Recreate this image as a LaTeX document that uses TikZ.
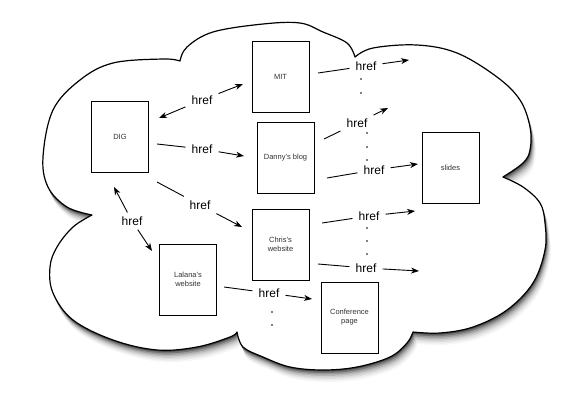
\documentclass[tikz,border=0pt]{standalone}
\usepackage{fontspec}
\setmainfont{Liberation Sans}
\usetikzlibrary{arrows.meta}
\tikzset{
  cloudpath/.style={insert path={(180,61)
    -- plot[smooth,tension=0.6] coordinates {(180,61) (187,47) (213,32) (263,24) (300,23) (323,32) (347,43) (355,57)}
    -- plot[smooth,tension=0.6] coordinates {(355,57) (373,48) (417,45) (457,53) (497,77) (520,100) (530,127) (530,150) (523,163) (503,177)}
    -- plot[smooth,tension=0.6] coordinates {(503,177) (523,187) (540,203) (545,223) (545,250) (533,283) (507,310) (473,327) (440,333) (413,332)}
    -- plot[smooth,tension=0.6] coordinates {(413,332) (407,343) (390,357) (357,367) (323,370) (290,367) (263,357) (243,347) (237,332)}
    -- plot[smooth,tension=0.6] coordinates {(237,332) (230,337) (197,347) (157,350) (113,340) (73,320) (53,293) (50,267) (57,247) (73,227) (92,215)}
    -- plot[smooth,tension=0.6] coordinates {(92,215) (67,207) (48,187) (43,157) (53,110) (80,80) (113,63) (163,59) (180,61)}
    -- cycle}},
  page/.style={draw=black, line width=0.9pt, fill=white, inner sep=1pt, align=center,
    minimum width=57pt, minimum height=71pt,
    font=\fontsize{7.5}{9}\selectfont, text=black!80},
  lbl/.style={font=\fontsize{12}{14}\selectfont, inner xsep=6pt, inner ysep=4pt},
  ln/.style={line width=0.9pt},
  arr/.style={line width=0.9pt, -{Stealth[length=8pt,width=6pt,inset=2.5pt]}},
  dotm/.style={fill=black, circle, inner sep=0pt, minimum size=1.6pt}
}
\begin{document}
\begin{tikzpicture}[x=1pt,y=-1pt]
\useasboundingbox (0,0) rectangle (587,400);
% soft drop shadow
\foreach \s/\o in {12/0.03, 10.5/0.04, 9/0.06, 7.5/0.08, 6/0.11, 4.5/0.16, 3/0.24, 1.5/0.35} {
  \begin{scope}[xshift=\s*0.4pt, yshift=-\s*1pt]
    \fill[black, opacity=\o, cloudpath];
  \end{scope}
}
\fill[white, cloudpath];
\draw[line width=1.2pt, line join=round, cloudpath];

% pages
\node[page] (dig) at (120,136.5) {DIG};
\node[page] (mit) at (280.5,76.5) {MIT};
\node[page] (danny) at (285.5,157.5) {Danny's blog};
\node[page] (slides) at (450.5,167.5) {slides};
\node[page] (chris) at (280.5,244.5) {Chris's\\website};
\node[page] (lalana) at (188,279.5) {Lalana's\\website};
\node[page] (conf) at (349.5,317.5) {Conference\\page};

% labels
\node[lbl] (l1) at (202,100) {href};
\node[lbl] (l2) at (202,149) {href};
\node[lbl] (l3) at (200,205) {href};
\node[lbl] (l4) at (132,221) {href};
\node[lbl] (l5) at (366,66) {href};
\node[lbl] (l6) at (357,123) {href};
\node[lbl] (l7) at (374,170) {href};
\node[lbl] (l8) at (369,216) {href};
\node[lbl] (l9) at (366,268) {href};
\node[lbl] (l10) at (269,293) {href};

% free ends
\coordinate (a1) at (159,118); \coordinate (b1) at (243,84);
\coordinate (a2) at (157,144); \coordinate (b2) at (244,156);
\coordinate (a3) at (157,182); \coordinate (b3) at (242,227);
\coordinate (a4) at (114,187); \coordinate (b4) at (152,251);
\coordinate (a5) at (318,73);  \coordinate (b5) at (409,60);
\coordinate (a6) at (324,139); \coordinate (b6) at (388,108);
\coordinate (a7) at (327,178); \coordinate (b7) at (418,164);
\coordinate (a8) at (322,223); \coordinate (b8) at (415,211);
\coordinate (a9) at (318,264); \coordinate (b9) at (419,271);
\coordinate (a10) at (224,287); \coordinate (b10) at (312,299);

% connectors
\draw[arr] (l1) -- (a1); \draw[arr] (l1) -- (b1);
\draw[ln] (a2) -- (l2); \draw[arr] (l2) -- (b2);
\draw[ln] (a3) -- (l3); \draw[arr] (l3) -- (b3);
\draw[arr] (l4) -- (a4); \draw[arr] (l4) -- (b4);
\draw[ln] (a5) -- (l5); \draw[arr] (l5) -- (b5);
\draw[ln] (a6) -- (l6); \draw[arr] (l6) -- (b6);
\draw[ln] (a7) -- (l7); \draw[arr] (l7) -- (b7);
\draw[ln] (a8) -- (l8); \draw[arr] (l8) -- (b8);
\draw[ln] (a9) -- (l9); \draw[arr] (l9) -- (b9);
\draw[ln] (a10) -- (l10); \draw[arr] (l10) -- (b10);

% dots
\foreach \p in {(361,79),(361,93),(367,133),(367,147),(367,160),(367,228),(367,241),(367,254),(272,312),(272,325)}
  \node[dotm] at \p {};
\end{tikzpicture}
\end{document}
